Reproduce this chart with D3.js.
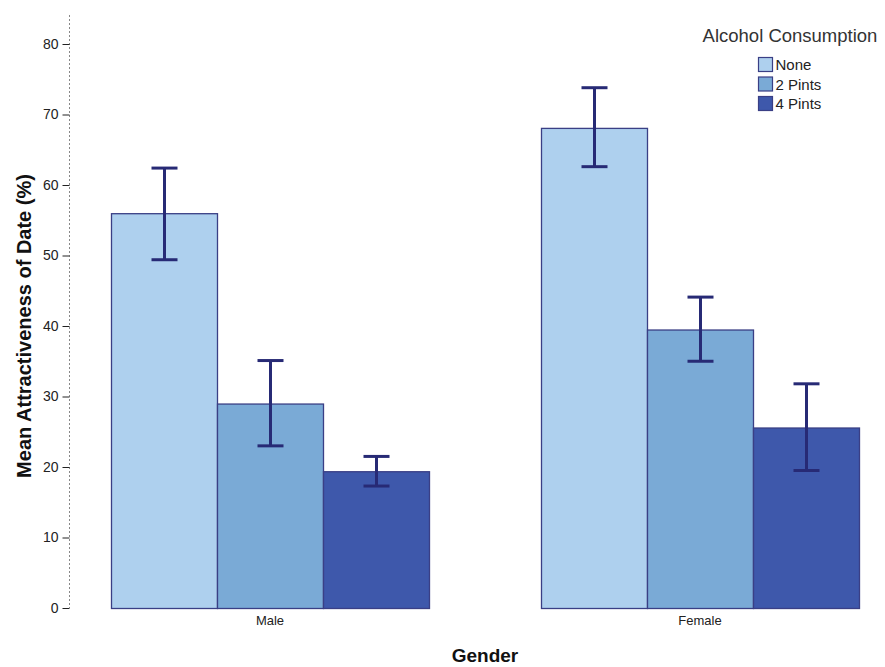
<!DOCTYPE html>
<html>
<head>
<meta charset="utf-8">
<script src="https://cdn.jsdelivr.net/npm/d3@7"></script>
<style>
  html, body { margin: 0; padding: 0; background: #fff; }
  svg { display: block; font-family: "Liberation Sans", Arial, sans-serif; }
</style>
</head>
<body>
<svg id="chart" width="885" height="667"></svg>
<script>
// Mean attractiveness of date by gender and alcohol consumption
const genders = ["Male", "Female"];
const groups = ["None", "2 Pints", "4 Pints"];
const maleMeans = [56.0, 29.0, 19.4];
const femaleMeans = [68.1, 39.5, 25.6];
const maleLow = [49.4, 23.0, 17.3];
const maleHigh = [62.4, 35.1, 21.5];
const femaleLow = [62.6, 35.0, 19.5];
const femaleHigh = [73.8, 44.1, 31.8];
const yTicks = [0, 10, 20, 30, 40, 50, 60, 70, 80];
const colors = ["#aed0ee", "#7aaad6", "#3e58ab"];

const rows = [];
genders.forEach((g, gi) => {
  const means = gi === 0 ? maleMeans : femaleMeans;
  const lo = gi === 0 ? maleLow : femaleLow;
  const hi = gi === 0 ? maleHigh : femaleHigh;
  groups.forEach((k, ki) => rows.push({gender: g, group: k, mean: means[ki], lo: lo[ki], hi: hi[ki]}));
});

const svg = d3.select("#chart");
const axisX = 69, plotTop = 15, plotBottom = 608;

const y = d3.scaleLinear().domain([0, 80]).range([plotBottom, 44]);
// outer band: one slot per gender, inner band: one bar per consumption level
const x0 = d3.scalePoint().domain(genders).range([270, 700]);
const x = d3.scaleBand().domain(groups).range([-159, 159]);
const color = d3.scaleOrdinal().domain(groups).range(colors);

// y axis: dotted line and ticks
svg.append("line")
  .attr("x1", axisX + 0.5).attr("x2", axisX + 0.5)
  .attr("y1", plotTop).attr("y2", plotBottom)
  .attr("stroke", "#888").attr("stroke-width", 1)
  .attr("stroke-dasharray", "2,2");

const yAxis = svg.append("g")
  .attr("transform", `translate(${axisX + 0.5},0)`)
  .call(d3.axisLeft(y).tickValues(yTicks).tickSize(7).tickPadding(4));
yAxis.select(".domain").remove();
yAxis.selectAll(".tick line").attr("stroke", "#222");
yAxis.selectAll(".tick text")
  .attr("fill", "#222").attr("font-size", 14)
  .attr("font-family", "'Liberation Sans', Arial, sans-serif");

// bars
svg.append("g").selectAll("rect").data(rows).join("rect")
  .attr("x", d => x0(d.gender) + x(d.group) + 0.5)
  .attr("y", d => y(d.mean) + 0.5)
  .attr("width", x.bandwidth())
  .attr("height", d => y(0) - y(d.mean))
  .attr("fill", d => color(d.group))
  .attr("stroke", "#3a3f85").attr("stroke-width", 1.3);

// error bars
const eb = svg.append("g").attr("stroke", "#272a75").attr("stroke-width", 3).attr("fill", "none");
rows.forEach(d => {
  const cx = x0(d.gender) + x(d.group) + x.bandwidth() / 2 + 0.5;
  eb.append("line").attr("x1", cx).attr("x2", cx).attr("y1", y(d.hi)).attr("y2", y(d.lo));
  eb.append("line").attr("x1", cx - 13).attr("x2", cx + 13).attr("y1", y(d.hi)).attr("y2", y(d.hi));
  eb.append("line").attr("x1", cx - 13).attr("x2", cx + 13).attr("y1", y(d.lo)).attr("y2", y(d.lo));
});

// category labels
svg.append("g").selectAll("text").data(genders).join("text")
  .attr("x", d => x0(d)).attr("y", 625)
  .attr("text-anchor", "middle").attr("font-size", 13).attr("fill", "#222")
  .text(d => d);

// axis titles
svg.append("text")
  .attr("x", 485).attr("y", 662)
  .attr("text-anchor", "middle").attr("font-size", 19).attr("font-weight", "bold").attr("fill", "#111")
  .text("Gender");
svg.append("text")
  .attr("transform", "translate(31,326) rotate(-90)")
  .attr("text-anchor", "middle").attr("font-size", 20).attr("font-weight", "bold").attr("fill", "#111")
  .text("Mean Attractiveness of Date (%)");

// legend
svg.append("text")
  .attr("x", 790).attr("y", 42).attr("text-anchor", "middle")
  .attr("font-size", 18.5).attr("fill", "#333")
  .text("Alcohol Consumption");
const lg = svg.append("g").selectAll("g").data(groups).join("g")
  .attr("transform", (d, i) => `translate(758.5,${57.5 + i * 19.5})`);
lg.append("rect").attr("width", 14).attr("height", 14)
  .attr("fill", d => color(d)).attr("stroke", "#3a3f85").attr("stroke-width", 1.2);
lg.append("text").attr("x", 17).attr("y", 12.5).attr("font-size", 15).attr("fill", "#222").text(d => d);
</script>
</body>
</html>
